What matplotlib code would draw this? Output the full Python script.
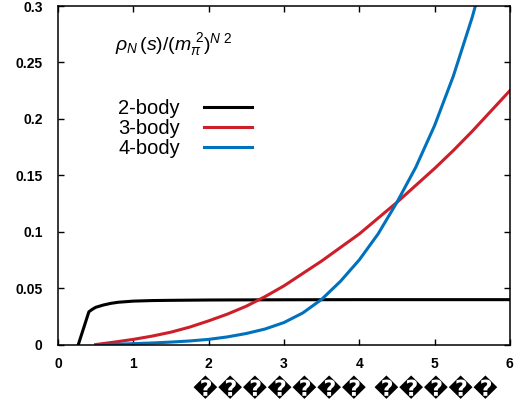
import matplotlib
matplotlib.use("Agg")
import matplotlib.pyplot as plt

plt.rcParams['font.family'] = ['Liberation Sans', 'DejaVu Sans']
plt.rcParams['mathtext.fontset'] = 'custom'
plt.rcParams['mathtext.rm'] = 'Liberation Sans'
plt.rcParams['mathtext.it'] = 'Liberation Sans:italic'

# 2-body
s2 = [0.27, 0.41, 0.45, 0.5, 0.6, 0.7, 0.8, 0.9, 1.0, 1.25, 1.5, 2.0, 3.0, 4.0, 5.0, 6.0]
rho2 = [0.0, 0.029, 0.031, 0.033, 0.035, 0.0365, 0.0375, 0.038, 0.0385, 0.039, 0.0392,
        0.0395, 0.0397, 0.0398, 0.0398, 0.0398]

# 3-body
s3 = [0.5, 0.75, 1.0, 1.25, 1.5, 1.75, 2.0, 2.25, 2.5, 2.75, 3.0, 3.25, 3.5, 3.75,
      4.0, 4.25, 4.5, 4.75, 5.0, 5.25, 5.5, 5.75, 6.0]
rho3 = [0.0, 0.0022, 0.0046, 0.0075, 0.011, 0.0155, 0.021, 0.027, 0.034, 0.0425, 0.052,
        0.063, 0.074, 0.086, 0.098, 0.112, 0.126, 0.141, 0.156, 0.172, 0.189, 0.207, 0.225]

# 4-body
s4 = [0.58, 0.75, 1.0, 1.25, 1.5, 1.75, 2.0, 2.25, 2.5, 2.75, 3.0, 3.25, 3.5, 3.75,
      4.0, 4.25, 4.5, 4.75, 5.0, 5.25, 5.5, 5.75]
rho4 = [0.0, 0.0002, 0.0008, 0.0014, 0.0022, 0.0032, 0.0046, 0.0068, 0.0098, 0.0138,
        0.0195, 0.028, 0.040, 0.056, 0.075, 0.098, 0.126, 0.157, 0.194, 0.238, 0.290, 0.350]

labels = ['2-body', '3-body', '4-body']
colors = ['black', '#cc1f2a', '#0072bd']

xticks = [0, 1, 2, 3, 4, 5, 6]
yticks = [0, 0.05, 0.1, 0.15, 0.2, 0.25, 0.3]
yticklabels = ['0', '0.05', '0.1', '0.15', '0.2', '0.25', '0.3']

fig = plt.figure(figsize=(5.15, 4.03), dpi=100)
ax = fig.add_axes([0.1126, 0.145, 0.8774, 0.840])

for xs, ys, lab, c in zip([s2, s3, s4], [rho2, rho3, rho4], labels, colors):
    ax.plot(xs, ys, color=c, lw=2.2, label=lab)

ax.set_xlim(0, 6)
ax.set_ylim(0, 0.3)
ax.set_xticks(xticks)
ax.set_xticklabels([str(v) for v in xticks])
ax.set_yticks(yticks)
ax.set_yticklabels(yticklabels)
ax.tick_params(direction='in', length=4, width=1, top=True, right=True, labelsize=10)
ax.tick_params(axis='x', pad=9)
ax.tick_params(axis='y', pad=11)
for t in ax.get_xticklabels() + ax.get_yticklabels():
    t.set_fontweight('bold')
for sp in ax.spines.values():
    sp.set_linewidth(1.1)

ax.text(0.126, 0.885, r'$\rho_N\,(s)/(m_\pi^{\ 2})^{N\ 2}$', transform=ax.transAxes,
        fontsize=14, va='center', ha='left')

ax.legend(loc='upper left', bbox_to_anchor=(0.133, 0.725), markerfirst=False, frameon=False,
          fontsize=14.5, handlelength=2.4, handletextpad=1.2, labelspacing=0.05,
          borderpad=0, borderaxespad=0)

ax.set_xlabel('\ufffd' * 7 + ' ' + '\ufffd' * 5, fontsize=16, fontweight='bold',
              family='DejaVu Sans')
ax.xaxis.set_label_coords(0.635, -0.094)

fig.savefig('out.png', dpi=100)
